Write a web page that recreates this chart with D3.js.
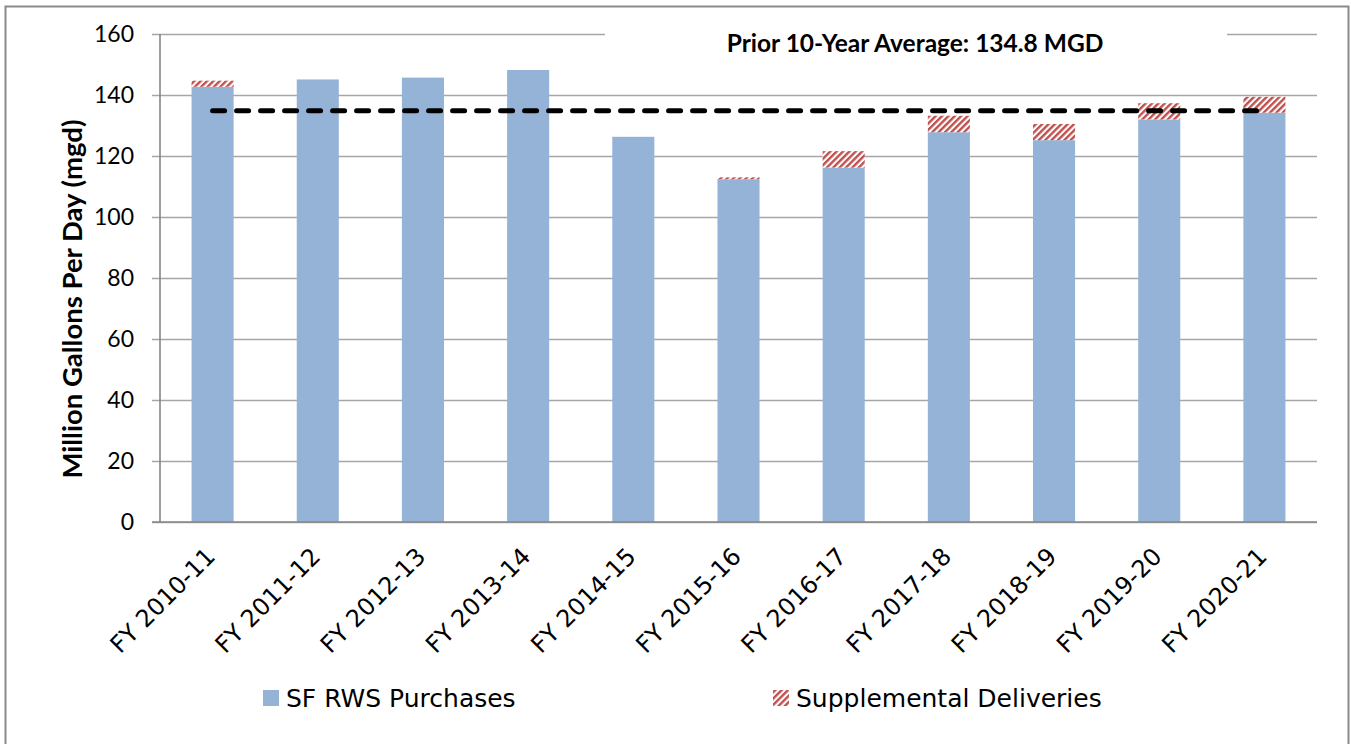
<!DOCTYPE html>
<html lang="en">

<head>
    <meta charset="UTF-8">
    <title>SF RWS Purchases</title>
    <style>
        body { margin: 0; background: #fff; }
    </style>
</head>

<body>
    <script src="https://d3js.org/d3.v7.min.js"></script>
    <div id="chart"></div>
    <script>

        const width = 1351;
        const height = 744;

        //data
        const categories = ["FY 2010-11", "FY 2011-12", "FY 2012-13", "FY 2013-14", "FY 2014-15", "FY 2015-16",
            "FY 2016-17", "FY 2017-18", "FY 2018-19", "FY 2019-20", "FY 2020-21"];
        const purchases = [142.7, 145.1, 145.7, 148.2, 126.3, 112.4, 116.2, 127.8, 125.2, 132.0, 134.2];
        const supplemental = [2.0, 0, 0, 0, 0, 0.6, 5.4, 5.4, 5.3, 5.3, 5.2];
        const priorAverage = 134.8;
        const yTicks = [0, 20, 40, 60, 80, 100, 120, 140, 160];
        const seriesNames = ["SF RWS Purchases", "Supplemental Deliveries"];

        const blue = "#95b3d7";
        const red = "#c0504d";

        const margin = { left: 160, right: 1317, top: 34, bottom: 522 };

        const x = d3.scaleBand()
            .domain(categories)
            .range([margin.left, margin.right])
            .paddingInner(0.6)
            .paddingOuter(0.3);

        const y = d3.scaleLinear()
            .domain([0, 160])
            .range([margin.bottom, margin.top]);

        const svg = d3.select("#chart").append("svg")
            .attr("width", width)
            .attr("height", height);

        // hatch pattern for supplemental
        svg.append("defs").append("pattern")
            .attr("id", "hatch")
            .attr("patternUnits", "userSpaceOnUse")
            .attr("width", 4.5)
            .attr("height", 4.5)
            .attr("patternTransform", "rotate(45)")
            .call(p => p.append("rect").attr("width", 4.5).attr("height", 4.5).attr("fill", "#fff"))
            .call(p => p.append("rect").attr("width", 2.4).attr("height", 4.5).attr("fill", red));

        // outer frame
        svg.append("rect")
            .attr("x", 5.5).attr("y", 6.5)
            .attr("width", 1343).attr("height", 760)
            .attr("fill", "none")
            .attr("stroke", "#8a8a8a")
            .attr("stroke-width", 2);

        // gridlines + y labels
        svg.append("g")
            .attr("transform", `translate(152,0)`)
            .call(d3.axisLeft(y).tickValues(yTicks).tickSize(-(margin.right - 152)).tickPadding(18))
            .call(g => g.select(".domain").remove())
            .call(g => g.selectAll(".tick line").attr("stroke", "#a6a6a6").attr("stroke-width", 1.6))
            .call(g => g.selectAll(".tick text")
                .attr("font-family", "Lato, sans-serif")
                .attr("font-size", 23)
                .attr("fill", "#000"));

        // vertical axis line
        svg.append("line")
            .attr("x1", margin.left).attr("x2", margin.left)
            .attr("y1", y(160)).attr("y2", y(0))
            .attr("stroke", "#868686")
            .attr("stroke-width", 1.6);

        // bars
        svg.append("g")
            .selectAll("rect")
            .data(categories)
            .join("rect")
            .attr("x", d => x(d))
            .attr("width", x.bandwidth())
            .attr("y", (d, i) => y(purchases[i]))
            .attr("height", (d, i) => y(0) - y(purchases[i]))
            .attr("fill", blue);

        svg.append("g")
            .selectAll("rect")
            .data(categories.filter((d, i) => supplemental[i] > 0))
            .join("rect")
            .attr("x", d => x(d))
            .attr("width", x.bandwidth())
            .attr("y", d => { const i = categories.indexOf(d); return y(purchases[i] + supplemental[i]); })
            .attr("height", d => { const i = categories.indexOf(d); return y(purchases[i]) - y(purchases[i] + supplemental[i]); })
            .attr("fill", "url(#hatch)");

        // bottom axis line
        svg.append("line")
            .attr("x1", 152).attr("x2", margin.right)
            .attr("y1", y(0)).attr("y2", y(0))
            .attr("stroke", "#868686")
            .attr("stroke-width", 1.6);

        // average line
        const mid = d => x(d) + x.bandwidth() / 2;
        svg.append("line")
            .attr("x1", mid(categories[0]))
            .attr("x2", mid(categories[categories.length - 1]))
            .attr("y1", y(priorAverage)).attr("y2", y(priorAverage))
            .attr("stroke", "#000")
            .attr("stroke-width", 5)
            .attr("stroke-linecap", "round")
            .attr("stroke-dasharray", "12 12");

        // average label with white box
        svg.append("rect")
            .attr("x", 605).attr("y", 22)
            .attr("width", 622).attr("height", 44)
            .attr("fill", "#fff");
        svg.append("text")
            .attr("x", 915).attr("y", 52)
            .attr("text-anchor", "middle")
            .attr("font-family", "Lato, sans-serif")
            .attr("font-weight", "bold")
            .attr("font-size", 24.5)
            .text(`Prior 10-Year Average: ${priorAverage} MGD`);

        // x labels
        svg.append("g")
            .attr("font-family", "'DejaVu Sans', sans-serif")
            .attr("font-size", 24)
            .attr("text-anchor", "end")
            .selectAll("text")
            .data(categories)
            .join("text")
            .attr("transform", d => `translate(${mid(d) + 4},${558}) rotate(-45)`)
            .text(d => d);

        // y title
        svg.append("text")
            .attr("transform", "translate(82,299) rotate(-90)")
            .attr("text-anchor", "middle")
            .attr("font-family", "Lato, sans-serif")
            .attr("font-weight", "bold")
            .attr("font-size", 27.5)
            .text("Million Gallons Per Day (mgd)");

        // legend
        const legend = svg.append("g")
            .attr("font-family", "'DejaVu Sans', sans-serif")
            .attr("font-size", 25);
        const legendX = [263, 773];
        legend.selectAll("rect")
            .data(seriesNames)
            .join("rect")
            .attr("x", (d, i) => legendX[i])
            .attr("y", 690)
            .attr("width", 16).attr("height", 16)
            .attr("fill", (d, i) => i === 0 ? blue : "url(#hatch)");
        legend.selectAll("text")
            .data(seriesNames)
            .join("text")
            .attr("x", (d, i) => legendX[i] + 23)
            .attr("y", 707)
            .text(d => d);

    </script>
</body>

</html>
